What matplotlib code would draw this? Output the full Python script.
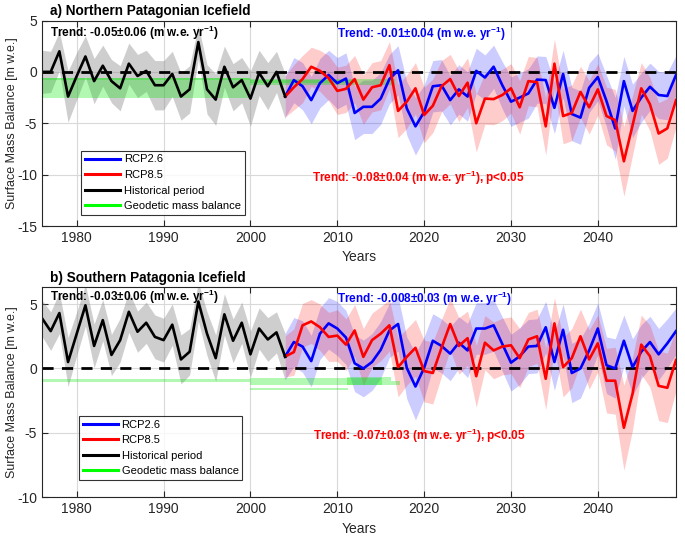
import numpy as np
import matplotlib
matplotlib.use("Agg")
import matplotlib.pyplot as plt

plt.rcParams['font.family'] = ['Liberation Sans', 'DejaVu Sans']
plt.rcParams['mathtext.fontset'] = 'custom'
plt.rcParams['mathtext.rm'] = 'Liberation Sans'
plt.rcParams['mathtext.bf'] = 'Liberation Sans:bold'
plt.rcParams['mathtext.default'] = 'bf'
plt.rcParams['axes.unicode_minus'] = False

# years for the historical and projected series
hist_years = list(range(1976, 2005))
proj_years = list(range(2004, 2050))

# a) Northern Patagonian Icefield
npi_hist = [0, 0, 2.0, -2.4, -0.4, 1.5, -0.9, 0.6, -0.9, -1.6, 0.8, -0.4, 0.1, -1.3, -1.3,
            -0.2, -2.4, -1.7, 2.9, -1.7, -2.7, 0.5, -1.5, -0.8, -2.6, -0.1, -1.4, 0.0, -2.4]
npi_hist_err = [2.1, 2.0, 1.9, 2.5, 2.3, 2.0, 2.2, 2.0, 2.1, 2.2, 2.0, 2.1, 2.0, 2.4, 2.4,
                2.2, 2.3, 2.3, 1.6, 2.4, 2.5, 2.0, 2.3, 2.2, 2.7, 2.2, 2.3, 2.0, 2.2]
npi_rcp26 = [-2.4, -0.8, -1.4, -2.75, -1.1, -0.3, -1.1, -0.65, -4.0, -3.4, -3.4, -2.6, -0.7, 0.15,
             -3.55, -5.3, -3.9, -1.4, -1.3, -2.75, -1.7, -2.4, 0.1, -0.55, 0.5, -1.3, -2.9, -2.5,
             -2.1, -0.75, -0.8, -3.5, -0.2, -4.1, -4.45, -1.55, -0.5, -2.85, -5.5, -0.9, -3.8,
             -2.5, -1.45, -2.25, -2.35, -0.3]
npi_rcp26_err = [2.0, 2.2, 2.3, 2.3, 2.4, 2.4, 2.5, 2.5, 2.6, 2.6, 2.6, 2.5, 2.4, 2.4,
                 2.6, 2.8, 2.6, 2.5, 2.5, 2.4, 2.4, 2.4, 2.2, 2.2, 2.1, 2.3, 2.4, 2.4,
                 2.4, 2.3, 2.3, 2.5, 2.3, 2.6, 2.6, 2.4, 2.3, 2.5, 3.0, 2.4, 2.6,
                 2.4, 2.3, 2.3, 2.3, 1.9]
npi_rcp85 = [-2.4, -1.5, -0.7, 0.5, 0.1, -0.6, -1.85, -1.65, -0.7, -2.7, -1.5, -1.3, 0.65, -3.8,
             -2.9, -1.6, -4.2, -3.3, -1.4, -0.7, -2.35, -1.05, -5.0, -2.6, -2.65, -2.25, -1.6,
             -3.45, -0.9, -1.0, -5.3, 0.8, -4.3, -4.0, -1.95, -3.45, -1.7, -4.3, -4.7, -8.7,
             -5.2, -1.6, -3.15, -6.0, -5.5, -2.75]
npi_rcp85_err = [2.0, 2.2, 2.3, 1.9, 2.0, 2.2, 2.3, 2.3, 2.3, 2.4, 2.4, 2.4, 2.3, 2.6,
                 2.6, 2.5, 2.7, 2.6, 2.5, 2.4, 2.5, 2.4, 2.8, 2.5, 2.5, 2.5, 2.4,
                 2.6, 2.4, 2.4, 2.8, 2.4, 2.7, 2.7, 2.5, 2.6, 2.5, 2.8, 3.0, 3.4,
                 2.9, 2.5, 2.6, 3.0, 2.9, 2.6]

# b) Southern Patagonia Icefield
spi_hist = [3.9, 2.9, 4.3, 0.5, 2.7, 4.9, 1.75, 3.75, 1.05, 2.2, 4.4, 2.85, 3.55, 2.45, 2.2,
            3.4, 0.7, 1.3, 5.2, 2.7, 0.8, 4.2, 2.15, 3.55, 1.1, 3.1, 2.25, 2.8, 0.9]
spi_hist_err = [1.4, 1.5, 1.6, 1.9, 1.7, 1.6, 1.7, 1.6, 1.6, 1.7, 1.6, 1.6, 1.6, 1.7, 1.7,
                1.6, 1.9, 1.8, 1.5, 1.7, 1.8, 1.6, 1.7, 1.6, 1.8, 1.6, 1.7, 1.6, 1.8]
spi_rcp26 = [0.93, 2.05, 1.7, 0.57, 2.7, 3.5, 3.1, 2.4, 0.4, 0.0, 0.5, 1.45, 2.95, 3.45, 0.05,
             -1.4, 0.05, 2.15, 1.75, 1.15, 2.0, 1.4, 3.1, 3.1, 3.35, 1.9, 0.45, 0.95, 1.7,
             1.75, 3.2, 0.5, 3.0, -0.35, 0.0, 1.4, 3.1, 0.25, 0.0, 2.15, 0.1, 1.3, 2.05,
             1.1, 1.95, 2.9]
spi_rcp26_err = [1.8, 1.9, 2.0, 2.0, 2.0, 2.0, 2.1, 2.1, 2.2, 2.2, 2.2, 2.2, 2.1, 2.1, 2.4,
                 2.6, 2.4, 2.1, 2.1, 2.1, 2.0, 2.1, 2.0, 2.0, 2.0, 2.1, 2.2, 2.2, 2.1,
                 2.1, 2.0, 2.2, 2.0, 2.3, 2.3, 2.1, 2.0, 2.2, 2.3, 2.0, 2.2, 2.1, 2.0,
                 2.0, 1.9, 1.8]
spi_rcp85 = [0.93, 1.27, 3.35, 3.65, 3.2, 2.45, 2.55, 1.85, 2.95, 0.9, 2.2, 2.7, 3.35, 0.1,
             0.9, 1.6, -0.2, -0.35, 1.6, 3.45, 1.75, 2.35, -0.6, 2.0, 1.4, 1.7, 1.8, 0.8,
             2.25, 2.5, -0.8, 3.5, 0.1, 0.8, 2.5, 0.7, 1.95, -0.95, -0.95, -4.6, -1.95,
             1.85, 0.95, -1.35, -1.5, 0.65]
spi_rcp85_err = [1.6, 1.8, 1.7, 1.7, 1.8, 1.9, 2.0, 2.0, 2.0, 2.2, 2.1, 2.1, 2.0, 2.3,
                 2.2, 2.2, 2.4, 2.4, 2.2, 2.0, 2.2, 2.1, 2.4, 2.1, 2.2, 2.2, 2.2, 2.3,
                 2.1, 2.1, 2.4, 2.0, 2.3, 2.3, 2.1, 2.3, 2.2, 2.5, 2.6, 3.3, 2.8,
                 2.3, 2.4, 2.7, 2.7, 2.4]

# geodetic mass balance estimates: (start year, end year, low, high)
npi_geodetic = [(1976, 2000, -2.5, -0.55), (1976, 2000, -0.78, -0.55),
                (2000, 2016.6, -1.3, -0.7), (2000, 2012, -1.1, -0.8)]
spi_geodetic = [(1976, 2000, -1.05, -0.85), (2000, 2015.1, -1.25, -0.72),
                (2000, 2011.2, -1.7, -1.52), (2011.1, 2017.2, -1.25, -1.0),
                (2011.1, 2016.2, -0.95, -0.7)]

panels = [
    dict(title='a) Northern Patagonian Icefield', ylim=(-15, 5), yticks=[-15, -10, -5, 0, 5],
         hist=npi_hist, hist_err=npi_hist_err, r26=npi_rcp26, r26_err=npi_rcp26_err,
         r85=npi_rcp85, r85_err=npi_rcp85_err, geo=npi_geodetic,
         trend_hist='Trend: -0.05\u00b10.06 (m w.e. yr$^{-1}$)',
         trend_26='Trend: -0.01\u00b10.04 (m w.e. yr$^{-1}$)',
         trend_85='Trend: -0.08\u00b10.04 (m w.e. yr$^{-1}$), p<0.05',
         pos=[42, 20.5, 676, 226], th_y=0.938, t26_y=0.934, t85=(2007.1, -10.3),
         leg=(0.0615, 0.0535)),
    dict(title='b) Southern Patagonia Icefield', ylim=(-10, 6.3), yticks=[-10, -5, 0, 5],
         hist=spi_hist, hist_err=spi_hist_err, r26=spi_rcp26, r26_err=spi_rcp26_err,
         r85=spi_rcp85, r85_err=spi_rcp85_err, geo=spi_geodetic,
         trend_hist='Trend: -0.03\u00b10.06 (m w.e. yr$^{-1}$)',
         trend_26='Trend: -0.008\u00b10.03 (m w.e. yr$^{-1}$)',
         trend_85='Trend: -0.07\u00b10.03 (m w.e. yr$^{-1}$), p<0.05',
         pos=[42, 287.3, 676, 497.3], th_y=0.955, t26_y=0.944, t85=(2007.2, -5.25),
         leg=(0.058, 0.082)),
]

W, H = 685, 537
fig = plt.figure(figsize=(W / 100, H / 100), dpi=100)

edge = '#262626'
for p in panels:
    x0, y0, x1, y1 = p['pos']
    ax = fig.add_axes([x0 / W, 1 - y1 / H, (x1 - x0) / W, (y1 - y0) / H])

    hy = np.array(hist_years)
    py = np.array(proj_years)
    h = np.array(p['hist']); he = np.array(p['hist_err'])
    b = np.array(p['r26']); be = np.array(p['r26_err'])
    r = np.array(p['r85']); re = np.array(p['r85_err'])

    ax.fill_between(hy, h - he, h + he, color=(0.5, 0.5, 0.5), alpha=0.38, lw=0)
    ax.fill_between(py, b - be, b + be, color=(0, 0, 1), alpha=0.2, lw=0)
    ax.fill_between(py, r - re, r + re, color=(1, 0, 0), alpha=0.2, lw=0)

    ax.plot([1976, 2049], [0, 0], '--', color='black', lw=2, dashes=(4, 3))
    l26, = ax.plot(py, b, color=(0, 0, 1), lw=1.9, label='RCP2.6')
    l85, = ax.plot(py, r, color=(1, 0, 0), lw=1.9, label='RCP8.5')
    lh, = ax.plot(hy, h, color='black', lw=1.9, label='Historical period')

    for (s, e, lo, hi) in p['geo']:
        ax.fill_between([s, e], [lo, lo], [hi, hi], color=(0, 0.9, 0), alpha=0.3, lw=0)
    lg, = ax.plot([], [], color=(0, 1, 0), lw=2.5, label='Geodetic mass balance')

    ax.set_xlim(1976, 2049)
    ax.set_ylim(*p['ylim'])
    ax.set_yticks(p['yticks'])
    ax.set_xticks([1980, 1990, 2000, 2010, 2020, 2030, 2040])
    ax.grid(True, color='#d9d9d9', lw=0.8)
    ax.set_axisbelow(True)
    ax.tick_params(direction='in', top=True, right=True, labelsize=10, colors=edge,
                   length=4, width=0.8)
    for sp in ax.spines.values():
        sp.set_color(edge)
        sp.set_linewidth(0.8)

    ax.set_xlabel('Years', fontsize=10, color=edge, labelpad=4)
    ax.set_ylabel('Surface Mass Balance [m w.e.]', fontsize=9, color=edge)
    ax.yaxis.set_label_coords(-24 / (x1 - x0), 0.5)
    ax.set_title(p['title'], loc='left', fontsize=9.8, fontweight='bold', x=0.012, pad=4)

    ax.text(0.012, p['th_y'], p['trend_hist'], transform=ax.transAxes, fontsize=8.5,
            fontweight='bold', color='black', va='center')
    ax.text(0.465, p['t26_y'], p['trend_26'], transform=ax.transAxes, fontsize=8.5,
            fontweight='bold', color=(0, 0, 1), va='center')
    ax.text(p['t85'][0], p['t85'][1], p['trend_85'], fontsize=8.5, fontweight='bold',
            color=(1, 0, 0), va='center')

    leg = ax.legend(handles=[l26, l85, lh, lg], loc='lower left',
                    bbox_to_anchor=p['leg'], borderaxespad=0, fontsize=8, frameon=True,
                    fancybox=False, edgecolor='black', handlelength=3.2,
                    borderpad=0.35, labelspacing=0.5, handletextpad=0.3)
    leg.get_frame().set_linewidth(0.8)
    for ln in leg.get_lines():
        ln.set_linewidth(2.2)

fig.savefig('out.png', dpi=100)
